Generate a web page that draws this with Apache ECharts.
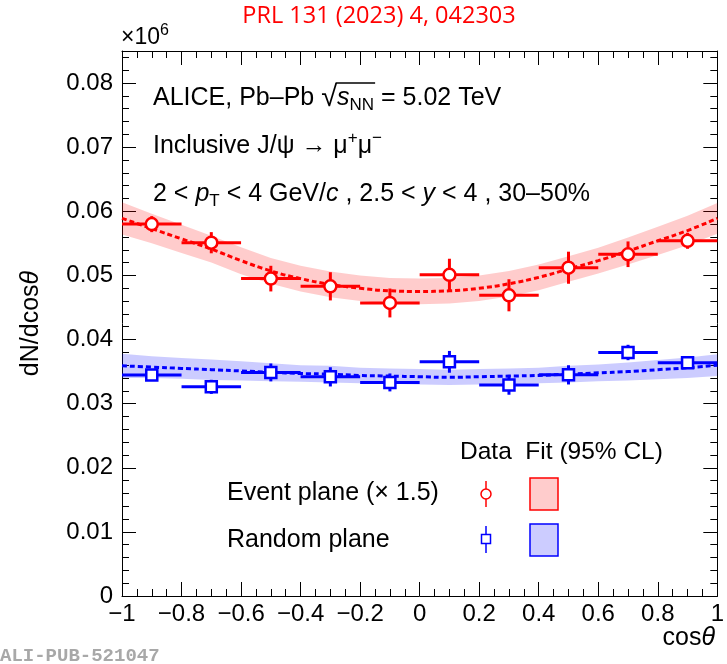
<!DOCTYPE html>
<html><head><meta charset="utf-8">
<script src="https://cdn.jsdelivr.net/npm/echarts@6/dist/echarts.min.js"></script>
<style>html,body{margin:0;padding:0;background:#fff}#c{width:727px;height:664px}</style>
</head><body><div id="c"></div>
<script>
// ---- data ----
const binCenters = [-0.9, -0.7, -0.5, -0.3, -0.1, 0.1, 0.3, 0.5, 0.7, 0.9];
const binHalfWidth = 0.1;
const eventPlaneY   = [0.0580, 0.0551, 0.0495, 0.0483, 0.0457, 0.0501, 0.0469, 0.0512, 0.0533, 0.0554];
const eventPlaneErr = [0.00125, 0.00165, 0.0020, 0.0022, 0.00225, 0.0025, 0.0025, 0.0025, 0.0020, 0.00125];
const randomPlaneY   = [0.03445, 0.03262, 0.03487, 0.03418, 0.03331, 0.03652, 0.03289, 0.03449, 0.03798, 0.03636];
const randomPlaneErr = [0.0006, 0.0011, 0.0014, 0.0015, 0.0014, 0.0017, 0.0015, 0.0015, 0.0012, 0.0009];
const fitX = [-1, -0.9, -0.8, -0.7, -0.6, -0.5, -0.4, -0.3, -0.2, -0.1, 0, 0.1, 0.2, 0.3, 0.4, 0.5, 0.6, 0.7, 0.8, 0.9, 1];
const eventFit     = [0.0589, 0.0573, 0.0557, 0.0541, 0.0523, 0.0507, 0.0495, 0.0486, 0.0480, 0.0476, 0.0475, 0.0476, 0.0480, 0.0487, 0.0497, 0.0510, 0.0523, 0.0538, 0.0554, 0.0570, 0.0589];
const eventFitHalf = [0.0025, 0.0023, 0.0022, 0.0021, 0.0021, 0.0020, 0.0020, 0.0020, 0.0020, 0.0020, 0.0020, 0.0020, 0.0020, 0.0020, 0.0020, 0.0020, 0.0020, 0.0021, 0.0022, 0.0023, 0.0024];
const randomFit     = [0.0359, 0.0357, 0.0355, 0.0353, 0.0351, 0.0349, 0.0347, 0.0346, 0.0344, 0.0343, 0.0342, 0.0341, 0.0342, 0.0343, 0.0344, 0.0346, 0.0348, 0.0350, 0.0353, 0.0356, 0.0360];
const randomFitHalf = [0.0019, 0.0017, 0.0016, 0.0016, 0.0015, 0.0014, 0.0013, 0.0013, 0.0012, 0.0012, 0.0012, 0.0012, 0.0012, 0.0012, 0.0012, 0.0013, 0.0013, 0.0014, 0.0015, 0.0016, 0.0017];
const xTickLabels = ['−1', '−0.8', '−0.6', '−0.4', '−0.2', '0', '0.2', '0.4', '0.6', '0.8', '1'];
const yTickLabels = ['0', '0.01', '0.02', '0.03', '0.04', '0.05', '0.06', '0.07', '0.08'];

// ---- styling ----
const RED = '#ff0000', BLUE = '#0000ff';
const FONT = '"Liberation Sans", Arial, sans-serif';
const TS = 25; // annotation text size
const chart = echarts.init(document.getElementById('c'), null, {renderer: 'canvas'});

function xLabel(v) { const i = Math.round((v + 1) / 0.2); return Math.abs(v - (-1 + i * 0.2)) < 1e-6 ? xTickLabels[i] : ''; }
function yLabel(v) { const i = Math.round(v / 0.01); return (i <= 8 && Math.abs(v - i * 0.01) < 1e-7) ? yTickLabels[i] : ''; }

function xAx(pos, interval, len, labels, line) {
  return {type: 'value', position: pos, min: -1, max: 1, interval: interval,
    axisLine: {show: line, onZero: false, lineStyle: {color: '#000', width: 1}},
    axisTick: {show: true, inside: true, length: len, lineStyle: {color: '#000', width: 1}},
    axisLabel: {show: labels, formatter: xLabel, fontFamily: FONT, fontSize: 24, color: '#000', margin: 6},
    splitLine: {show: false}};
}
function yAx(pos, interval, len, labels, line) {
  return {type: 'value', position: pos, min: 0, max: 0.085, interval: interval,
    axisLine: {show: line, onZero: false, lineStyle: {color: '#000', width: 1}},
    axisTick: {show: true, inside: true, length: len, lineStyle: {color: '#000', width: 1}},
    axisLabel: {show: labels, formatter: yLabel, fontFamily: FONT, fontSize: 24, color: '#000', margin: 9, showMaxLabel: false},
    splitLine: {show: false},
    name: labels ? 'dN/dcos{it|θ}' : '', nameLocation: 'middle', nameGap: 78, nameRotate: 90,
    nameTextStyle: {fontFamily: FONT, fontSize: 25, color: '#000', rich: {it: {fontFamily: FONT, fontSize: 25, fontStyle: 'italic'}}}};
}

function bandSeries(fit, half, color) {
  return {type: 'custom', silent: true, z: 1, data: [[0, fit[10]]], clip: true,
    renderItem(params, api) {
      const pts = [];
      for (let i = 0; i < fitX.length; i++) pts.push(api.coord([fitX[i], fit[i] + half[i]]));
      for (let i = fitX.length - 1; i >= 0; i--) pts.push(api.coord([fitX[i], fit[i] - half[i]]));
      return {type: 'polygon', shape: {points: pts}, style: {fill: color}};
    }};
}
function fitSeries(fit, color) {
  return {type: 'line', z: 3, smooth: true, showSymbol: false, symbol: 'none', silent: true,
    data: fitX.map((x, i) => [x, fit[i]]),
    lineStyle: {color: color, width: 3, type: [5, 3]}};
}
function errSeries(ys, errs, color) {
  return {type: 'custom', z: 4, silent: true,
    data: binCenters.map((x, i) => [x, ys[i], errs[i]]),
    renderItem(params, api) {
      const x = api.value(0), y = api.value(1), e = api.value(2);
      const l = api.coord([x - binHalfWidth, y]), r = api.coord([x + binHalfWidth, y]);
      const t = api.coord([x, y + e]), b = api.coord([x, y - e]);
      return {type: 'group', children: [
        {type: 'line', shape: {x1: l[0], y1: l[1], x2: r[0], y2: r[1]}, style: {stroke: color, lineWidth: 3}},
        {type: 'line', shape: {x1: t[0], y1: t[1], x2: b[0], y2: b[1]}, style: {stroke: color, lineWidth: 3}}
      ]};
    }};
}
function markerSeries(ys, color, symbol, size) {
  return {type: 'scatter', z: 5, silent: true, symbol: symbol, symbolSize: size,
    data: binCenters.map((x, i) => [x, ys[i]]),
    itemStyle: {color: '#fff', borderColor: color, borderWidth: 2.5, opacity: 1}};
}

const txt = (x, y, text, rich, extra) => Object.assign({type: 'text', x: x, y: y, z: 10,
  style: Object.assign({text: text, fontFamily: FONT, fontSize: TS, fill: '#000', verticalAlign: 'middle', rich: rich || {}}, extra || {})});
const R = {
  it: {fontFamily: FONT, fontSize: TS, fontStyle: 'italic'},
  rad: {fontFamily: FONT, fontSize: 29},
  sub: {fontFamily: FONT, fontSize: 17, padding: [14, 0, 0, 0]},
  sup: {fontFamily: FONT, fontSize: 17, padding: [0, 0, 15, 0]}
};

// measure for the radical overline
const mctx = document.createElement('canvas').getContext('2d');
function mw(s, size, style) { mctx.font = (style || '') + ' ' + size + 'px ' + FONT; return mctx.measureText(s).width; }
const L1X = 153, L1Y = 98;
const ovX1 = L1X + mw('ALICE, Pb–Pb ', TS) + mw('√', 29) - 1.5;
const ovX2 = ovX1 + 1.5 + mw('s', TS, 'italic') + mw('NN', 17) + 1;

chart.setOption({
  animation: false,
  backgroundColor: '#fff',
  grid: {left: 122, top: 51, right: 9.5, bottom: 68, containLabel: false},
  xAxis: [xAx('bottom', 0.2, 14, true, true), xAx('bottom', 0.05, 7, false, false),
          xAx('top', 0.2, 14, false, true), xAx('top', 0.05, 7, false, false)],
  yAxis: [yAx('left', 0.01, 14, true, true), yAx('left', 0.002, 7, false, false),
          yAx('right', 0.01, 14, false, true), yAx('right', 0.002, 7, false, false)],
  series: [
    bandSeries(eventFit, eventFitHalf, 'rgba(255,0,0,0.2)'),
    bandSeries(randomFit, randomFitHalf, 'rgba(0,0,255,0.2)'),
    fitSeries(eventFit, RED),
    fitSeries(randomFit, BLUE),
    errSeries(eventPlaneY, eventPlaneErr, RED),
    errSeries(randomPlaneY, randomPlaneErr, BLUE),
    markerSeries(eventPlaneY, RED, 'circle', 12),
    markerSeries(randomPlaneY, BLUE, 'rect', 11)
  ],
  graphic: [
    txt(379, 16, 'PRL 131 (2023) 4, 042303', {}, {align: 'center', fontFamily: '"Open Sans", sans-serif', fontSize: 23.5, fill: '#ff0000'}),
    txt(121, 38, '×10{sup|6}', {sup: {fontFamily: FONT, fontSize: 16, padding: [0, 0, 14, 0]}}, {fontSize: 23}),
    txt(715, 638, 'cos{it|θ}', R, {align: 'right'}),
    txt(0, 656, 'ALI-PUB-521047', {}, {fontFamily: '"Liberation Mono", monospace', fontWeight: 'bold', fontSize: 19, fill: '#a8a8a8'}),
    txt(L1X, L1Y, 'ALICE, Pb–Pb {rad|√}{it|s}{sub|NN} = 5.02 TeV', R),
    {type: 'line', z: 10, shape: {x1: ovX1, y1: L1Y - 15, x2: ovX2, y2: L1Y - 15}, style: {stroke: '#000', lineWidth: 1.3}},
    txt(153, 146, 'Inclusive J/ψ → μ{sup|+}μ{sup|−}', R),
    txt(153, 194, '2 < {it|p}{sub|T} < 4 GeV/{it|c} , 2.5 < {it|y} < 4 , 30–50%', R),
    txt(460, 452, 'Data  Fit (95% CL)', {}, {fontSize: 24.5}),
    txt(227, 493, 'Event plane (× 1.5)', {}, {fontSize: 25}),
    txt(227, 540, 'Random plane', {}, {fontSize: 25}),
    {type: 'line', z: 10, shape: {x1: 486, y1: 481, x2: 486, y2: 507}, style: {stroke: RED, lineWidth: 1.5}},
    {type: 'circle', z: 11, shape: {cx: 486, cy: 494, r: 5}, style: {fill: '#fff', stroke: RED, lineWidth: 1.5}},
    {type: 'rect', z: 10, shape: {x: 530, y: 478, width: 28, height: 32}, style: {fill: 'rgba(255,0,0,0.2)', stroke: RED, lineWidth: 1.5}},
    {type: 'line', z: 10, shape: {x1: 486, y1: 526, x2: 486, y2: 553}, style: {stroke: BLUE, lineWidth: 1.5}},
    {type: 'rect', z: 11, shape: {x: 481.5, y: 534.5, width: 9, height: 9}, style: {fill: '#fff', stroke: BLUE, lineWidth: 1.5}},
    {type: 'rect', z: 10, shape: {x: 530, y: 524, width: 28, height: 32}, style: {fill: 'rgba(0,0,255,0.2)', stroke: BLUE, lineWidth: 1.5}}
  ]
});
</script></body></html>
